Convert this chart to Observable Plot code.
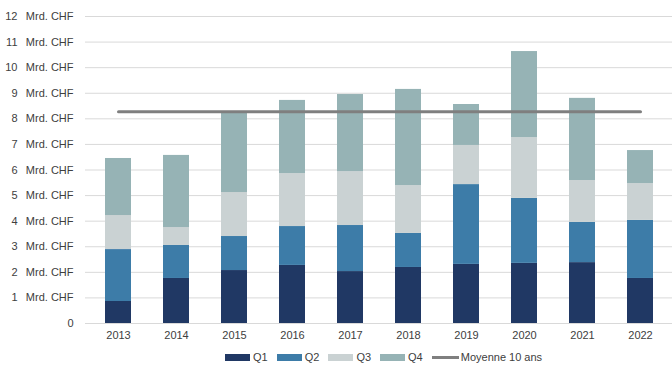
<!DOCTYPE html>
<html>
<head>
<meta charset="utf-8">
<script src="https://cdn.jsdelivr.net/npm/d3@7"></script>
<script src="https://cdn.jsdelivr.net/npm/@observablehq/plot@0.6"></script>
<style>
  html, body { margin: 0; padding: 0; background: #fff; }
  body { width: 672px; height: 377px; overflow: hidden; font-family: "Liberation Sans", Arial, sans-serif; }
  #legend { display: flex; align-items: center; padding-left: 225px; height: 24px; font-size: 11px; color: #404040; }
  .item { display: flex; align-items: center; margin-right: 9px; }
  .sw { width: 25px; height: 7px; margin-right: 3px; }
  .ln { width: 27px; height: 3px; margin-right: 2px; background: #7f7f7f; }
</style>
</head>
<body>
<div id="chart"></div>
<div id="legend"></div>
<script>
const years = ["2013","2014","2015","2016","2017","2018","2019","2020","2021","2022"];
const quarters = ["Q1","Q2","Q3","Q4"];
const q1 = [0.86, 1.76, 2.07, 2.27, 2.03, 2.19, 2.31, 2.35, 2.38, 1.76];
const q2 = [2.03, 1.29, 1.33, 1.52, 1.80, 1.33, 3.12, 2.54, 1.57, 2.27];
const q3 = [1.33, 0.70, 1.72, 2.07, 2.11, 1.87, 1.53, 2.38, 1.64, 1.44];
const q4 = [2.23, 2.82, 3.13, 2.86, 3.01, 3.76, 1.60, 3.36, 3.21, 1.29];
const avgValue = 8.28;
const avgLabel = "Moyenne 10 ans";
const yTicks = [0,1,2,3,4,5,6,7,8,9,10,11,12];
const unit = "Mrd. CHF";
const colors = ["#203864", "#3d7ca8", "#cad2d3", "#96b3b5"];
const avgColor = "#7f7f7f";

const series = [q1, q2, q3, q4];
const data = [];
years.forEach((y, i) => quarters.forEach((q, j) => data.push({year: y, quarter: q, value: series[j][i]})));
const avgData = years.map(y => ({year: y, value: avgValue}));

const chart = Plot.plot({
  width: 672,
  height: 345,
  marginLeft: 85,
  marginRight: 0,
  marginTop: 16,
  marginBottom: 22,
  style: { fontFamily: "Liberation Sans, Arial, sans-serif", fontSize: "11px", color: "#404040", background: "#fff" },
  x: { domain: years, paddingInner: 0.56, paddingOuter: 0.28, label: null },
  y: { domain: [0, 12], label: null },
  color: { domain: quarters, range: colors },
  marks: [
    Plot.gridY(yTicks, { stroke: "#d9d9d9", strokeOpacity: 1, strokeWidth: 1 }),
    Plot.barY(data, { x: "year", y: "value", fill: "quarter" }),
    Plot.lineY(avgData, { x: "year", y: "value", stroke: avgColor, strokeWidth: 3 }),
    Plot.axisX({ tickSize: 0, tickPadding: 8, label: null, fill: "#404040" }),
    Plot.axisY(yTicks, { tickSize: 0, tickPadding: 68, textAnchor: "end", tickFormat: d => d === 0 ? "" : String(d), label: null, fill: "#404040" }),
    Plot.axisY(yTicks, { tickSize: 0, tickPadding: 12, textAnchor: "end", tickFormat: d => d === 0 ? "0" : unit, label: null, fill: "#404040" })
  ]
});
document.getElementById("chart").appendChild(chart);

const legend = document.getElementById("legend");
quarters.forEach((q, j) => {
  const it = document.createElement("div");
  it.className = "item";
  it.innerHTML = `<div class="sw" style="background:${colors[j]}"></div><span>${q}</span>`;
  legend.appendChild(it);
});
const li = document.createElement("div");
li.className = "item";
li.innerHTML = `<div class="ln"></div><span>${avgLabel}</span>`;
legend.appendChild(li);
</script>
</body>
</html>
